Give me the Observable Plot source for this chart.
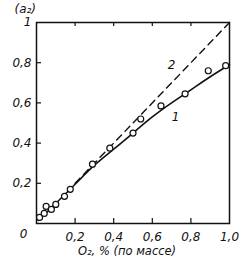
<!DOCTYPE html>
<html><head><meta charset="utf-8">
<script src="https://cdn.jsdelivr.net/npm/d3@7"></script>
<script src="https://cdn.jsdelivr.net/npm/@observablehq/plot@0.6"></script>
<style>
body{margin:0;background:#fff;}
svg{font-family:"DejaVu Sans",sans-serif;font-style:italic;}
</style></head><body>
<div id="chart"></div>
<script>
// measured points (O2 %, ratio)
const pointsX = [0.016,0.04,0.05,0.077,0.10,0.145,0.175,0.29,0.38,0.50,0.54,0.645,0.77,0.89,0.98];
const pointsY = [0.03,0.05,0.085,0.07,0.095,0.135,0.17,0.295,0.375,0.45,0.52,0.585,0.645,0.76,0.785];
// curve 1 (solid)
const curve1X = [0.01,0.1,0.2,0.3,0.4,0.5,0.6,0.7,0.8,0.9,1.0];
const curve1Y = [0.015,0.1,0.195,0.29,0.37,0.45,0.53,0.60,0.665,0.73,0.79];
// line 2 (dashed)
const line2X = [0.2,1.0];
const line2Y = [0.2,1.0];
const xTicks = [0.2,0.4,0.6,0.8,1.0];
const xTickLabels = ["0,2","0,4","0,6","0,8","1,0"];
const yTicks = [0.2,0.4,0.6,0.8,1.0];
const yTickLabels = ["0,2","0,4","0,6","0,8","1"];
const curveLabels = [{x:0.72,y:0.53,t:"1"},{x:0.70,y:0.79,t:"2"}];

const pts = pointsX.map((x,i)=>({x,y:pointsY[i]}));
const c1 = curve1X.map((x,i)=>({x,y:curve1Y[i]}));
const l2 = line2X.map((x,i)=>({x,y:line2Y[i]}));

const chart = Plot.plot({
  width:251, height:278,
  marginLeft:36, marginRight:22, marginTop:22, marginBottom:55,
  x:{domain:[0,1], label:null}, y:{domain:[0,1], label:null},
  style:{fontSize:"11px", fontStyle:"italic", fontFamily:"DejaVu Sans, sans-serif", color:"#111"},
  marks:[
    Plot.frame({stroke:"#111", strokeWidth:1.5}),
    Plot.axisX({ticks:xTicks.slice(0,4), tickSize:-5, text:null, label:null, strokeWidth:1.2}),
    Plot.axisX({anchor:"top", ticks:xTicks.slice(0,4), tickSize:-3, text:null, strokeWidth:1.2, label:null}),
    Plot.axisX({ticks:xTicks, tickSize:0, tickPadding:9, tickFormat:(d,i)=>xTickLabels[i], label:null, fontSize:12}),
    Plot.axisY({ticks:yTicks.slice(0,4), tickSize:-5, text:null, label:null, strokeWidth:1.2}),
    Plot.axisY({ticks:yTicks, tickSize:0, tickPadding:5, tickFormat:(d,i)=>yTickLabels[i], label:null, fontSize:12}),
    Plot.text([0],{x:0,y:0,text:()=>"0",dx:-13,dy:11,fontSize:12}),
    Plot.line(l2,{x:"x",y:"y",stroke:"#111",strokeWidth:1.4,strokeDasharray:"7,5"}),
    Plot.line(c1,{x:"x",y:"y",stroke:"#111",strokeWidth:1.6,curve:"natural"}),
    Plot.dot(pts,{x:"x",y:"y",r:3,stroke:"#111",fill:"white",strokeWidth:1.2}),
    Plot.text(curveLabels,{x:"x",y:"y",text:"t",fontSize:12}),
    Plot.text(["(a₂)"],{frameAnchor:"top-left",dx:-22,dy:-18,text:d=>d,fontSize:12,textAnchor:"start"}),
    Plot.text(["O₂, % (по массе)"],{frameAnchor:"bottom",dx:-6,dy:31,text:d=>d,fontSize:11.5})
  ]
});
document.getElementById("chart").appendChild(chart);
</script>
</body></html>
